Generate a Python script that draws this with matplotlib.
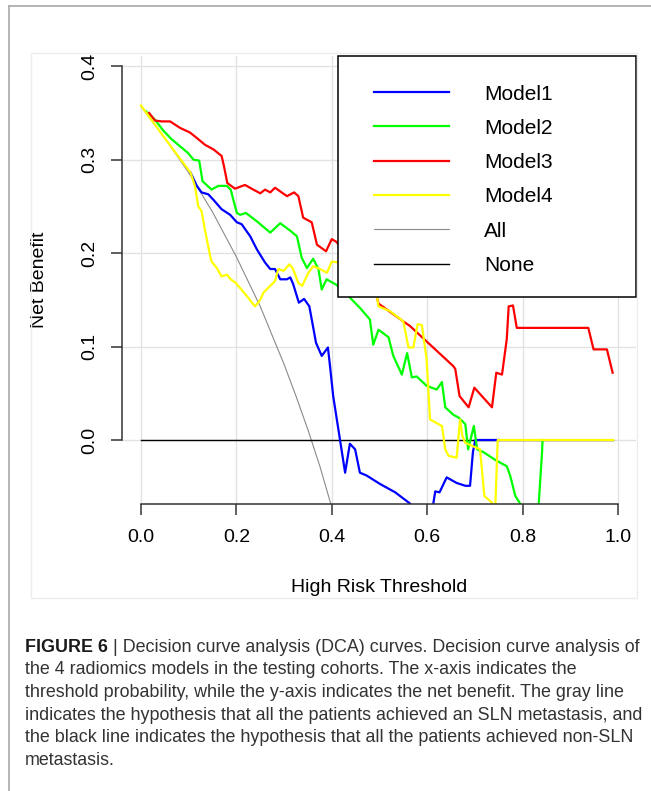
import matplotlib
matplotlib.use('Agg')
import matplotlib.pyplot as plt
from matplotlib.patches import Rectangle
from matplotlib.lines import Line2D

plt.rcParams['font.family'] = ['Liberation Sans', 'DejaVu Sans']

###############################################################################
# Data
###############################################################################
thr_all = [0.0, 0.05, 0.10, 0.15, 0.20, 0.25, 0.30, 0.325, 0.35, 0.375, 0.40]
nb_all = [0.357, 0.323, 0.286, 0.244, 0.196, 0.143, 0.081, 0.047, 0.011, -0.028, -0.072]

thr_none = [0.0, 0.99]
nb_none = [0.0, 0.0]

thr_model1 = [0.104, 0.117, 0.127, 0.141, 0.152, 0.169, 0.187, 0.201, 0.211, 0.229,
              0.243, 0.260, 0.271, 0.281, 0.292, 0.306, 0.313, 0.319, 0.331, 0.342,
              0.353, 0.367, 0.379, 0.392, 0.397, 0.403, 0.414, 0.428, 0.438, 0.449,
              0.459, 0.473, 0.501, 0.533, 0.564, 0.585, 0.600, 0.613, 0.617, 0.626,
              0.641, 0.662, 0.680, 0.690, 0.696, 0.701, 0.750]
nb_model1 = [0.286, 0.272, 0.265, 0.263, 0.257, 0.247, 0.241, 0.233, 0.231, 0.218,
             0.204, 0.190, 0.183, 0.183, 0.172, 0.172, 0.174, 0.167, 0.147, 0.151,
             0.143, 0.104, 0.090, 0.099, 0.076, 0.047, 0.011, -0.035, -0.004, -0.010,
             -0.035, -0.038, -0.047, -0.056, -0.068, -0.085, -0.085, -0.068, -0.055, -0.056,
             -0.040, -0.046, -0.049, -0.049, -0.013, 0.0, 0.0]

thr_model2 = [0.010, 0.029, 0.047, 0.064, 0.085, 0.099, 0.110, 0.122, 0.129, 0.148,
              0.162, 0.180, 0.188, 0.201, 0.208, 0.220, 0.243, 0.271, 0.292, 0.313,
              0.327, 0.337, 0.348, 0.361, 0.372, 0.379, 0.389, 0.410, 0.435, 0.458,
              0.480, 0.487, 0.498, 0.519, 0.529, 0.547, 0.558, 0.568, 0.578, 0.599,
              0.620, 0.631, 0.638, 0.655, 0.666, 0.680, 0.686, 0.698, 0.705, 0.718,
              0.745, 0.767, 0.774, 0.785, 0.795, 0.810, 0.830, 0.834, 0.841, 0.842]
nb_model2 = [0.352, 0.343, 0.331, 0.322, 0.313, 0.307, 0.300, 0.299, 0.277, 0.268,
             0.272, 0.272, 0.268, 0.243, 0.241, 0.243, 0.234, 0.222, 0.232, 0.224,
             0.218, 0.195, 0.184, 0.194, 0.183, 0.161, 0.172, 0.166, 0.154, 0.142,
             0.129, 0.102, 0.118, 0.110, 0.090, 0.070, 0.093, 0.067, 0.068, 0.058,
             0.054, 0.062, 0.035, 0.027, 0.024, 0.017, -0.010, 0.015, -0.010, -0.013,
             -0.022, -0.028, -0.038, -0.060, -0.068, -0.090, -0.090, -0.068, -0.013, 0.0]

thr_model3 = [0.017, 0.029, 0.043, 0.061, 0.082, 0.103, 0.120, 0.134, 0.152, 0.169,
              0.174, 0.181, 0.197, 0.218, 0.232, 0.250, 0.260, 0.271, 0.281, 0.306,
              0.321, 0.330, 0.340, 0.358, 0.369, 0.388, 0.400, 0.410, 0.450, 0.494,
              0.498, 0.550, 0.564, 0.655, 0.659, 0.668, 0.687, 0.699, 0.736, 0.745,
              0.757, 0.767, 0.771, 0.780, 0.788, 0.938, 0.949, 0.977, 0.989]
nb_model3 = [0.350, 0.342, 0.341, 0.341, 0.334, 0.329, 0.322, 0.316, 0.311, 0.304,
             0.293, 0.275, 0.269, 0.273, 0.269, 0.264, 0.268, 0.265, 0.270, 0.261,
             0.265, 0.261, 0.238, 0.233, 0.209, 0.202, 0.215, 0.212, 0.185, 0.154,
             0.146, 0.127, 0.122, 0.079, 0.076, 0.047, 0.035, 0.056, 0.035, 0.072,
             0.070, 0.108, 0.143, 0.144, 0.120, 0.120, 0.097, 0.097, 0.072]

thr_model4 = [0.000, 0.047, 0.104, 0.113, 0.120, 0.127, 0.134, 0.145, 0.148, 0.159,
              0.169, 0.180, 0.188, 0.199, 0.222, 0.239, 0.250, 0.257, 0.271, 0.281,
              0.288, 0.299, 0.311, 0.318, 0.330, 0.338, 0.351, 0.361, 0.375, 0.390,
              0.400, 0.414, 0.440, 0.470, 0.494, 0.498, 0.522, 0.550, 0.561, 0.571,
              0.580, 0.589, 0.599, 0.606, 0.631, 0.638, 0.645, 0.662, 0.669, 0.674,
              0.680, 0.711, 0.720, 0.736, 0.742, 0.748, 0.990]
nb_model4 = [0.358, 0.325, 0.286, 0.272, 0.250, 0.245, 0.225, 0.197, 0.191, 0.184,
             0.175, 0.177, 0.172, 0.168, 0.154, 0.143, 0.150, 0.158, 0.165, 0.170,
             0.183, 0.181, 0.188, 0.184, 0.168, 0.165, 0.179, 0.186, 0.183, 0.179,
             0.191, 0.190, 0.175, 0.165, 0.156, 0.143, 0.138, 0.127, 0.099, 0.099,
             0.124, 0.123, 0.086, 0.022, 0.015, -0.010, -0.017, -0.019, 0.022, 0.004,
             -0.003, -0.010, -0.060, -0.067, -0.085, 0.0, 0.0]

series_names = ['Model1', 'Model2', 'Model3', 'Model4', 'All', 'None']
series_colors = ['#0000ff', '#00ff00', '#ff0000', '#ffff00', '#8a8a8a', '#000000']
series_widths = [1.6, 1.6, 1.6, 1.6, 0.8, 1.0]

x_ticks = [0.0, 0.2, 0.4, 0.6, 0.8, 1.0]
y_ticks = [0.0, 0.1, 0.2, 0.3, 0.4]

caption_lines = [
    ('FIGURE 6', ' | Decision curve analysis (DCA) curves. Decision curve analysis of'),
    ('', 'the 4 radiomics models in the testing cohorts. The x-axis indicates the'),
    ('', 'threshold probability, while the y-axis indicates the net benefit. The gray line'),
    ('', 'indicates the hypothesis that all the patients achieved an SLN metastasis, and'),
    ('', 'the black line indicates the hypothesis that all the patients achieved non-SLN'),
    ('', 'metastasis.'),
]

###############################################################################
# Figure
###############################################################################
W, H = 651, 791
fig = plt.figure(figsize=(W / 100, H / 100), dpi=100)

# page frame + chart image frame
fig.add_artist(Line2D([9 / W, 1], [1 - 6 / H, 1 - 6 / H], transform=fig.transFigure,
                      color='#a8a8a8', lw=1.2))
fig.add_artist(Line2D([9 / W, 9 / W], [0, 1 - 6 / H], transform=fig.transFigure,
                      color='#a8a8a8', lw=1.2))
fig.add_artist(Rectangle((31 / W, 1 - 598 / H), (637 - 31) / W, (598 - 53) / H,
                         transform=fig.transFigure, fill=False, ec='#ececec', lw=1))

ax = fig.add_axes([121.7 / W, 1 - 504 / H, (636 - 121.7) / W, (504 - 56) / H])
ax.set_xlim(-0.0405, 1.038)
ax.set_ylim(-0.0685, 0.411)

ax.grid(True, color='#e2e2e2', lw=1.0)
ax.set_axisbelow(True)

ax.plot(thr_all, nb_all, color=series_colors[4], lw=series_widths[4])
ax.plot(thr_none, nb_none, color=series_colors[5], lw=series_widths[5])
ax.plot(thr_model1, nb_model1, color=series_colors[0], lw=series_widths[0])
ax.plot(thr_model2, nb_model2, color=series_colors[1], lw=series_widths[1])
ax.plot(thr_model3, nb_model3, color=series_colors[2], lw=series_widths[2])
ax.plot(thr_model4, nb_model4, color=series_colors[3], lw=series_widths[3])

for side in ['top', 'right']:
    ax.spines[side].set_visible(False)
for side in ['left', 'bottom']:
    ax.spines[side].set_color('#333333')
    ax.spines[side].set_linewidth(1.1)
ax.spines['left'].set_bounds(0, 0.4)
ax.spines['bottom'].set_bounds(0, 1.0)

ax.set_xticks(x_ticks)
ax.set_xticklabels(['%.1f' % v for v in x_ticks])
ax.set_yticks(y_ticks)
ax.set_yticklabels(['%.1f' % v for v in y_ticks])
ax.tick_params(axis='both', direction='out', length=8, width=1.1, color='#333333',
               labelsize=14)
ax.tick_params(axis='x', pad=10)
ax.tick_params(axis='y', pad=9)
for lab in ax.get_yticklabels():
    lab.set_rotation(90)
    lab.set_va('center')

ax.set_xlabel('High Risk Threshold', fontsize=14)
ax.xaxis.label.set_va('center')
ax.xaxis.set_label_coords(0.5, (504 - 588) / 448)
ax.set_ylabel('Net Benefit', fontsize=14)
ax.yaxis.label.set_va('center')
ax.yaxis.set_label_coords((40 - 121.7) / 514.3, 0.5)

# legend box drawn the way R's legend() lays it out
ax_w, ax_h = 514.3, 448.0
box_x0 = (338 - 121.7) / ax_w
box_y0 = (504 - 297) / ax_h
ax.add_patch(Rectangle((box_x0, box_y0), 1 - box_x0, 1 - box_y0, transform=ax.transAxes,
                       facecolor='white', edgecolor='black', lw=1.1, zorder=10,
                       clip_on=False))
hx0 = (374 - 121.7) / ax_w
hx1 = (449 - 121.7) / ax_w
tx = (484 - 121.7) / ax_w
for i, name in enumerate(series_names):
    row_px = 92 + 34.3 * i
    yy = (504 - row_px) / ax_h
    ax.add_line(Line2D([hx0, hx1], [yy, yy], transform=ax.transAxes,
                       color=series_colors[i], lw=series_widths[i], zorder=11,
                       clip_on=False))
    ax.text(tx, yy - 7.5 / ax_h, name, transform=ax.transAxes, fontsize=15,
            va='baseline', ha='left', zorder=11)

###############################################################################
# Caption
###############################################################################
renderer = fig.canvas.get_renderer()
cap_x0 = 25
target_w = 615
base_size = 12.0
b = fig.text(0, 0, caption_lines[0][0], fontsize=base_size, fontweight='bold')
r = fig.text(0, 0, caption_lines[0][1], fontsize=base_size)
w_line1 = b.get_window_extent(renderer).width + r.get_window_extent(renderer).width
b.remove()
r.remove()
cap_size = base_size * target_w / w_line1

for i, (bold_part, rest) in enumerate(caption_lines):
    y = 1 - (651.7 + 22.6 * i) / H
    x = cap_x0
    if bold_part:
        tb = fig.text(x / W, y, bold_part, fontsize=cap_size, fontweight='bold',
                      va='baseline', color='#1a1a1a')
        x += tb.get_window_extent(renderer).width
    fig.text(x / W, y, rest, fontsize=cap_size, va='baseline', color='#333333')

fig.savefig('out.png', dpi=100)
